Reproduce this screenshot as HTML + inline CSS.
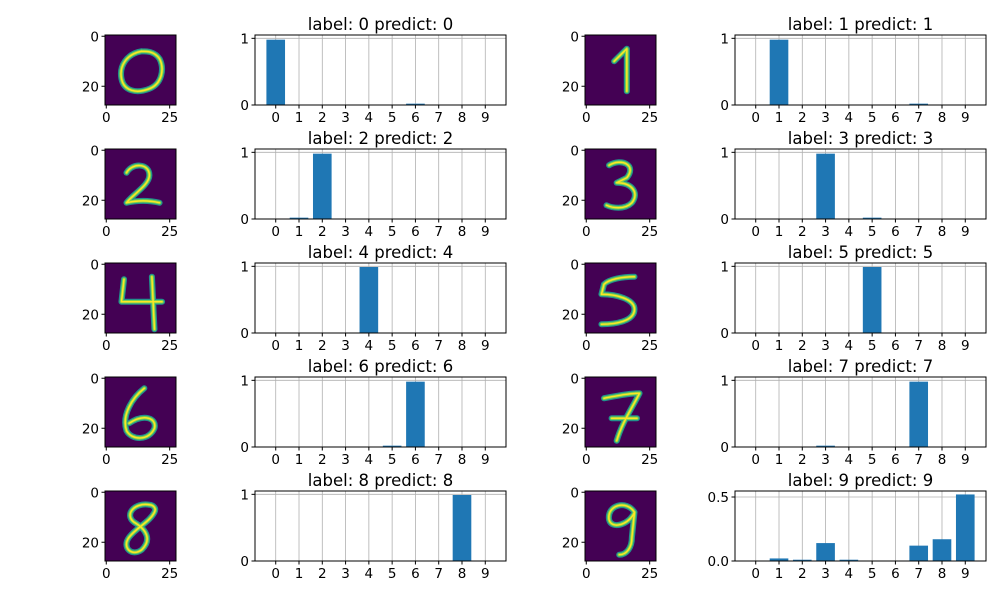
<!DOCTYPE html>
<html><head><meta charset="utf-8"><style>
html,body{margin:0;padding:0;background:#fff;}
svg{display:block;font-family:"DejaVu Sans","Liberation Sans",sans-serif;}
</style></head><body>
<svg id="fig" width="1000" height="598" viewBox="0 0 1000 598"></svg>
<script>
const categories = ['0','1','2','3','4','5','6','7','8','9'];
const labels = [0,1,2,3,4,5,6,7,8,9];
const predictions = [0,1,2,3,4,5,6,7,8,9];
const probs0 = [0.98,0,0,0,0,0,0.02,0,0,0];
const probs1 = [0,0.98,0,0,0,0,0,0.02,0,0];
const probs2 = [0,0.02,0.98,0,0,0,0,0,0,0];
const probs3 = [0,0,0,0.98,0,0.02,0,0,0,0];
const probs4 = [0,0,0,0,0.99,0,0,0,0,0];
const probs5 = [0,0,0,0,0,0.99,0,0,0,0];
const probs6 = [0,0,0,0,0,0.02,0.98,0,0,0];
const probs7 = [0,0,0,0.02,0,0,0,0.98,0,0];
const probs8 = [0,0,0,0,0,0,0,0,0.99,0];
const probs9 = [0,0.02,0.01,0.14,0.01,0,0,0.12,0.17,0.52];
const allProbs = [probs0,probs1,probs2,probs3,probs4,probs5,probs6,probs7,probs8,probs9];
const yTicks1 = [0,1];
const yTicks9 = [0,0.5];
const imgTicksX = [0,25];
const imgTicksY = [0,20];
const digitPaths = [
 "M14,6 C8,7 5,12 6,17 C7,22 12,23 17,21 C22,19 23,13 21,9 C19,6 16,6 14,6",
 "M11,10 L16,5 L16,22",
 "M8,9 C10,5 17,5 17,10 C17,14 10,18 8,21 C12,20 17,20 21,21",
 "M9,6 C14,3 20,6 16,11 L12,13 C18,13 21,17 18,21 C15,24 10,23 8,22",
 "M7,6 L6,15 L22,15 M18,5 L19,26",
 "M19,5 C14,5 9,6 7,8 L6,12 C12,12 19,14 19,18 C19,23 11,24 6,24",
 "M15,4 C10,8 6,15 8,21 C10,25 17,25 19,20 C20,16 15,14 9,18",
 "M7,8 C12,7 17,6 21,6 C18,12 14,18 12,25 M10,16 L20,16",
 "M17,5 C11,4 7,9 11,12 C16,15 18,19 14,23 C10,26 6,22 9,18 C12,14 17,12 19,8 C20,6 18,5 17,5",
 "M19,8 C16,3 8,5 9,11 C10,15 17,13 19,8 L18,18 C18,22 16,25 13,25"
];
const NS="http://www.w3.org/2000/svg";
const svg=document.getElementById('fig');
function mk(tag,attrs,parent){const e=document.createElementNS(NS,tag);for(const k in attrs)e.setAttribute(k,attrs[k]);(parent||svg).appendChild(e);return e;}
function txt(x,y,s,anchor,size,parent){const t=mk('text',{x:x,y:y,'text-anchor':anchor,'font-size':size,fill:'#000'},parent);t.textContent=s;return t;}
const rowY=[35,149,263,377,491], H=70;
for(let i=0;i<10;i++){
  const row=Math.floor(i/2), col=i%2;
  const y0=rowY[row];
  const ix=col?585:105, iw=71;
  const g=mk('g',{});
  
  
  mk('rect',{x:ix,y:y0,width:iw,height:H,fill:'#440154'},g);
  const sx=iw/28, sy=H/28;
  const dg=mk('g',{transform:`translate(${ix},${y0}) scale(${sx},${sy}) translate(0.5,0.5)`},g);
  mk('path',{d:digitPaths[i],fill:'none',stroke:'#21918c','stroke-width':2.4,'stroke-linecap':'round','stroke-linejoin':'round'},dg);
  mk('path',{d:digitPaths[i],fill:'none',stroke:'#7ad151','stroke-width':1.4,'stroke-linecap':'round','stroke-linejoin':'round'},dg);
  mk('path',{d:digitPaths[i],fill:'none',stroke:'#fde725','stroke-width':0.6,'stroke-linecap':'round','stroke-linejoin':'round'},dg);
  mk('rect',{x:ix,y:y0,width:iw,height:H,fill:'none',stroke:'#000','stroke-width':1},g);
  const imx=v=>ix+(v+0.5)*sx, imy=v=>y0+(v+0.5)*sy;
  imgTicksX.forEach(v=>{mk('line',{x1:imx(v),x2:imx(v),y1:y0+H,y2:y0+H+3.5,stroke:'#000'},g);txt(imx(v),y0+H+17,String(v),'middle',13.5,g);});
  imgTicksY.forEach(v=>{mk('line',{x1:ix,x2:ix-3.5,y1:imy(v),y2:imy(v),stroke:'#000'},g);txt(ix-6,imy(v)+5,String(v),'end',13.5,g);});
  const bx=col?735:255, bw=251;
  const probs=allProbs[i];
  const yMax = i===9?0.547:1.05;
  const yt = i===9?yTicks9:yTicks1;
  const xs=v=>bx+(v+0.89)*(bw/10.78);
  const ys=v=>y0+H-v/yMax*H;
  const b=mk('g',{});
  
  
  mk('rect',{x:bx,y:y0,width:bw,height:H,fill:'#fff'},b);
  categories.forEach((c,k)=>{mk('line',{x1:xs(k),x2:xs(k),y1:y0,y2:y0+H,stroke:'#b0b0b0','stroke-width':0.8},b);});
  yt.forEach(v=>{mk('line',{x1:bx,x2:bx+bw,y1:ys(v),y2:ys(v),stroke:'#b0b0b0','stroke-width':0.8},b);});
  probs.forEach((p,k)=>{
    if(p<=0)return;
    const r=mk('rect',{x:xs(k-0.4),y:ys(p),width:xs(0.4)-xs(-0.4),height:ys(0)-ys(p),fill:'#1f77b4'},b);
    
    
  });
  categories.forEach((c,k)=>{mk('line',{x1:xs(k),x2:xs(k),y1:y0+H,y2:y0+H+3.5,stroke:'#000'},b);txt(xs(k),y0+H+17,c,'middle',13.5,b);});
  yt.forEach(v=>{mk('line',{x1:bx,x2:bx-3.5,y1:ys(v),y2:ys(v),stroke:'#000'},b);txt(bx-6,ys(v)+5,i===9?v.toFixed(1):String(v),'end',13.5,b);});
  mk('rect',{x:bx,y:y0,width:bw,height:H,fill:'none',stroke:'#000','stroke-width':1},b);
  const t=txt(bx+bw/2,y0-5,'label: '+labels[i]+' predict: '+predictions[i],'middle',16.5,b);
  
  
}
</script>
</body></html>
